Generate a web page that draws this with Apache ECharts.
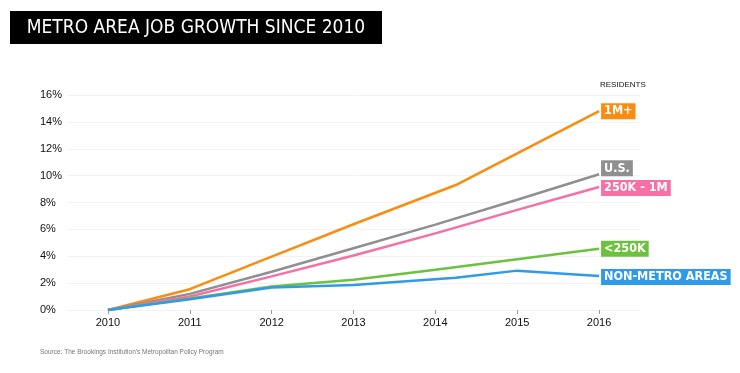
<!DOCTYPE html>
<html>
<head>
<meta charset="utf-8">
<script src="https://cdn.jsdelivr.net/npm/echarts@6/dist/echarts.min.js"></script>
<style>html,body{margin:0;padding:0;background:#fff}#c{width:740px;height:373px}</style>
</head>
<body>
<div id="c"></div>
<script>
const titleText = 'METRO AREA JOB GROWTH SINCE 2010';
const sourceText = "Source: The Brookings Institution's Metropolitan Policy Program";
const legendTitle = 'RESIDENTS';
const yearTicks = [2010, 2011, 2012, 2013, 2014, 2015, 2016];

const bigX = [2010, 2011, 2012, 2013, 2014.25, 2015, 2016];
const bigY = [0, 1.55, 3.97, 6.38, 9.3, 11.65, 14.8];
const usX = [2010, 2011, 2012, 2013, 2014, 2015, 2016];
const usY = [0, 1.2, 2.85, 4.6, 6.35, 8.2, 10.1];
const midX = [2010, 2011, 2012, 2013, 2014, 2015, 2016];
const midY = [0, 1.0, 2.5, 4.05, 5.7, 7.45, 9.15];
const smallX = [2010, 2011, 2012, 2013, 2014, 2015, 2016];
const smallY = [0, 0.85, 1.75, 2.25, 3.0, 3.77, 4.55];
const nonX = [2010, 2011, 2012, 2013, 2014.25, 2015, 2016];
const nonY = [0, 0.8, 1.67, 1.86, 2.4, 2.93, 2.53];

const names = ['1M+', 'U.S.', '250K - 1M', '<250K', 'NON-METRO AREAS'];
const colors = ['#fb8c0f', '#8f8f8f', '#f66fa5', '#6cc13f', '#2f9be8'];
const xs = [bigX, usX, midX, smallX, nonX];
const ys = [bigY, usY, midY, smallY, nonY];
const labelOffsets = [[0, 0], [0, -6], [0, 1], [0, 0], [0, 1]];
const COND = '"DejaVu Sans Condensed", "Liberation Sans Narrow", "Roboto Condensed", sans-serif';

const chart = echarts.init(document.getElementById('c'));
const series = names.map((n, i) => ({
  name: n,
  type: 'line',
  data: xs[i].map((x, j) => [x, ys[i][j]]),
  showSymbol: false,
  symbol: 'none',
  lineStyle: { color: colors[i], width: 2.5 },
  itemStyle: { color: colors[i] },
  z: 2 + i,
  endLabel: {
    show: true,
    formatter: n,
    distance: 2,
    offset: labelOffsets[i],
    backgroundColor: colors[i],
    color: '#fff',
    padding: [1, 3, 0, 3],
    fontFamily: COND,
    fontWeight: 'bold',
    fontSize: 12.5,
    lineHeight: 15
  }
}));

chart.setOption({
  animation: false,
  grid: { left: 67, right: 100, top: 95, bottom: 63 },
  xAxis: {
    type: 'value',
    min: 2009.5,
    max: 2016.5,
    axisLine: { show: false },
    splitLine: { show: false },
    axisTick: { show: true, customValues: yearTicks, length: 4, lineStyle: { color: '#999' } },
    axisLabel: { customValues: yearTicks, margin: 7, color: '#111', fontSize: 11, fontFamily: 'Liberation Sans', formatter: v => String(v) }
  },
  yAxis: {
    type: 'value',
    min: 0,
    max: 16,
    interval: 2,
    axisLine: { show: false },
    axisTick: { show: false },
    splitLine: { lineStyle: { color: '#f2f2f2', width: 1 } },
    axisLabel: { align: 'left', margin: 27, color: '#111', fontSize: 11, fontFamily: 'Liberation Sans', formatter: v => v + '%' }
  },
  graphic: [
    { type: 'rect', shape: { x: 10, y: 11, width: 372, height: 33 }, style: { fill: '#000' } },
    { type: 'text', x: 196, y: 28, style: { text: titleText, fill: '#fff', font: '19px ' + COND, textAlign: 'center', textVerticalAlign: 'middle' } },
    { type: 'text', x: 600, y: 85, style: { text: legendTitle, fill: '#111', font: '500 8px "Liberation Sans"', textVerticalAlign: 'middle' } },
    { type: 'text', x: 40, y: 352, style: { text: sourceText, fill: '#777', font: '6.5px "Liberation Sans"', textVerticalAlign: 'middle' } }
  ],
  series: series
});
</script>
</body>
</html>
